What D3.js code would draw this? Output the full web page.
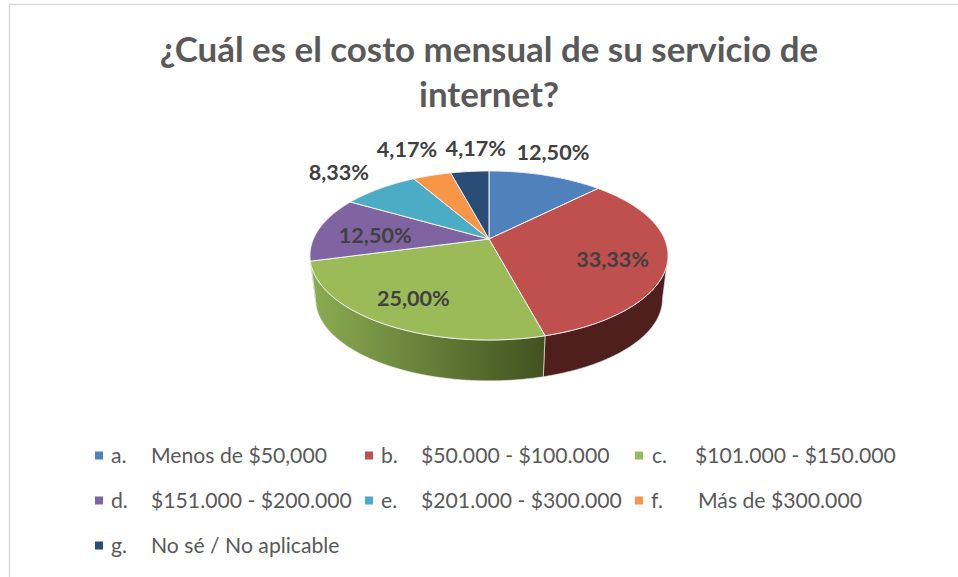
<!DOCTYPE html>
<html lang="es">
<head>
<meta charset="utf-8">
<script src="https://cdn.jsdelivr.net/npm/d3@7/dist/d3.min.js"></script>
<style>
html,body{margin:0;padding:0;background:#fff;overflow:hidden}
svg{display:block}
text{font-family:Lato,"Open Sans",sans-serif}
</style>
</head>
<body>
<svg id="c" width="958" height="577"></svg>
<script>
const titleLines = ["¿Cuál es el costo mensual de su servicio de", "internet?"];
const legendKeys = ["a.", "b.", "c.", "d.", "e.", "f.", "g."];
const categories = ["Menos de $50,000", "$50.000 - $100.000", "$101.000 - $150.000", "$151.000 - $200.000", "$201.000 - $300.000", "Más de $300.000", "No sé / No aplicable"];
const values = [12.5, 33.33, 25.0, 12.5, 8.33, 4.17, 4.17];
const valueLabels = ["12,50%", "33,33%", "25,00%", "12,50%", "8,33%", "4,17%", "4,17%"];
const colors = ["#4f81bd", "#c0504d", "#9bbb59", "#8064a2", "#4bacc6", "#f79646", "#2a4d78"];
const wallColors = ["#2f4d71", "#4f1f1d", "url(#greenWall)", "#4c3c61", "#2d6776", "#94592a", "#1a2e47"];

// layout, separate from the data
const labelOffsets = [[7,-23],[-55,-2],[30,-26],[56,7],[-41,-16],[-25,-26],[6,-23.5]];
const legendPos = [
  {m:95,k:111,t:151,y:456},{m:365,k:381,t:421,y:456},{m:635,k:652,t:695,y:456},
  {m:95,k:111,t:151,y:501},{m:365,k:381,t:421,y:501},{m:635,k:651,t:698,y:501},
  {m:95,k:111,t:151,y:546}
];

const svg = d3.select("#c");
const defs = svg.append("defs");
const grad = defs.append("linearGradient").attr("id","greenWall")
  .attr("gradientUnits","userSpaceOnUse").attr("x1",312).attr("x2",544).attr("y1",0).attr("y2",0);
grad.append("stop").attr("offset",0).attr("stop-color","#8bac52");
grad.append("stop").attr("offset",1).attr("stop-color","#41521f");

// chart frame
svg.append("path").attr("d","M9.5 577V4.5H958").attr("fill","none").attr("stroke","#d9d9d9").attr("stroke-width",1.5);

// perspective projection of the pie plane
const K = 0.195, A = 175.6, B = 81.3, CX = 489, TOPY = 239, BOTY = 283, BOTS = 0.969;
function project(theta, r, lower){
  const u = r*Math.sin(theta), v = -r*Math.cos(theta), s = 1/(1-K*v);
  const f = lower ? BOTS : 1;
  return [CX + f*A*u*s, (lower?BOTY:TOPY) + f*B*v*s];
}
const line = d3.line();
const arcs = d3.pie().sort(null).value(d=>d)(values);
function samples(a0,a1){
  const n = Math.max(2,Math.ceil((a1-a0)/0.01));
  return d3.range(n+1).map(i=>a0+(a1-a0)*i/n);
}
const tanR = Math.acos(-K), tanL = 2*Math.PI-tanR;

// walls
const walls = arcs.map((a,i)=>({a0:Math.max(a.startAngle,tanR),a1:Math.min(a.endAngle,tanL),i})).filter(d=>d.a1>d.a0);
svg.append("g").selectAll("path").data(walls).join("path")
  .attr("d",d=>{
    const t = samples(d.a0,d.a1);
    return line([...t.map(x=>project(x,1,false)),...t.slice().reverse().map(x=>project(x,1,true))])+"Z";
  })
  .attr("fill",d=>wallColors[d.i])
  .attr("stroke","#e8ecdf").attr("stroke-width",0.8).attr("stroke-opacity",0.8);

// top faces
svg.append("g").selectAll("path").data(arcs).join("path")
  .attr("d",a=>line([[CX,TOPY],...samples(a.startAngle,a.endAngle).map(x=>project(x,1,false))])+"Z")
  .attr("fill",(a,i)=>colors[i])
  .attr("stroke","#f2f2f2").attr("stroke-width",1).attr("stroke-linejoin","round");

// value labels
svg.append("g").selectAll("text").data(arcs).join("text")
  .attr("x",(a,i)=>project((a.startAngle+a.endAngle)/2,1,false)[0]+labelOffsets[i][0])
  .attr("y",(a,i)=>project((a.startAngle+a.endAngle)/2,1,false)[1]+labelOffsets[i][1])
  .attr("dy","0.36em").attr("text-anchor","middle")
  .attr("font-size",21.6).attr("font-weight",700).attr("fill","#404040")
  .text((a,i)=>valueLabels[i]);

// title
svg.append("g").selectAll("text").data(titleLines).join("text")
  .attr("x",489).attr("y",(d,i)=>[62,107][i]).attr("text-anchor","middle")
  .attr("font-size",34.9).attr("font-weight",700).attr("fill","#595959").text(d=>d);

// legend
const lg = svg.append("g").selectAll("g").data(categories).join("g");
lg.append("rect").attr("x",(d,i)=>legendPos[i].m).attr("y",(d,i)=>legendPos[i].y-4.5)
  .attr("width",8).attr("height",8).attr("fill",(d,i)=>colors[i]);
const legendStyle = s=>s.attr("dy","0.35em").attr("font-size",21.2).attr("fill","#595959");
lg.append("text").attr("x",(d,i)=>legendPos[i].k).attr("y",(d,i)=>legendPos[i].y).call(legendStyle).text((d,i)=>legendKeys[i]);
lg.append("text").attr("x",(d,i)=>legendPos[i].t).attr("y",(d,i)=>legendPos[i].y).call(legendStyle).text(d=>d);
</script>
</body>
</html>
